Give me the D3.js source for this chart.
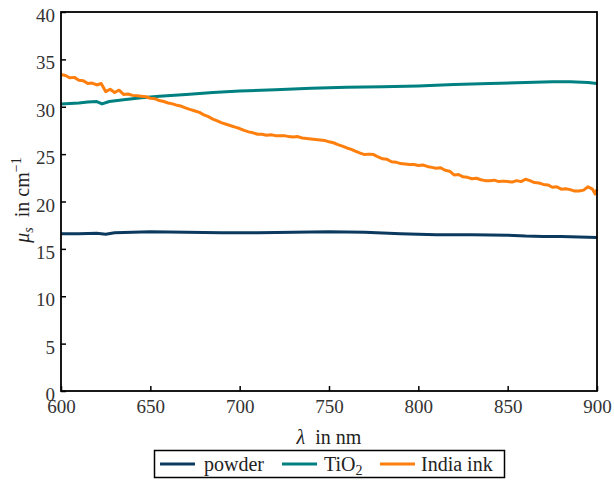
<!DOCTYPE html>
<html><head><meta charset="utf-8">
<script src="https://cdn.jsdelivr.net/npm/d3@7"></script>
<style>body{margin:0;background:#fff} svg text{font-family:'Liberation Serif','Times New Roman',Times,serif !important}</style>
</head><body>
<svg id="c" width="614" height="481"></svg>
<script>
const seriesNames = ["powder", "TiO2", "India ink"];
const xTicks = [600, 650, 700, 750, 800, 850, 900];
const yTicks = [0, 5, 10, 15, 20, 25, 30, 35, 40];

const powderLambda = [600,610,620,625,630,640,650,670,690,710,730,750,770,790,810,830,850,860,870,880,890,900];
const powderValues = [16.6,16.6,16.65,16.55,16.7,16.75,16.8,16.75,16.7,16.7,16.75,16.8,16.75,16.6,16.5,16.5,16.45,16.35,16.3,16.3,16.25,16.2];

const tio2Lambda = [600,605,610,615,620,623,627,635,645,655,670,685,700,720,740,760,780,800,820,840,860,875,885,895,900];
const tio2Values = [30.3,30.35,30.4,30.5,30.55,30.3,30.55,30.75,30.95,31.1,31.3,31.5,31.65,31.8,31.95,32.05,32.1,32.2,32.35,32.45,32.55,32.65,32.65,32.55,32.45];

const inkLambda = [600,602.5,605,607.5,610,612.5,615,617.5,620,622.5,625,627.5,630,632.5,635,637.5,640,642.5,645,647.5,650,652.5,655,657.5,660,662.5,665,667.5,670,672.5,675,677.5,680,682.5,685,687.5,690,692.5,695,697.5,700,702.5,705,707.5,710,712.5,715,717.5,720,722.5,725,727.5,730,732.5,735,737.5,740,742.5,745,747.5,750,752.5,755,757.5,760,762.5,765,767.5,770,772.5,775,777.5,780,782.5,785,787.5,790,792.5,795,797.5,800,802.5,805,807.5,810,812.5,815,817.5,820,822.5,825,827.5,830,832.5,835,837.5,840,842.5,845,847.5,850,852.5,855,857.5,860,862.5,865,867.5,870,872.5,875,877.5,880,882.5,885,887.5,890,892.5,895,897.5,899,900];
const inkValues = [33.4,33.3,33.05,33.1,32.8,32.75,32.45,32.5,32.3,32.45,31.6,31.85,31.5,31.75,31.3,31.35,31.2,31.15,31.1,31.05,30.9,30.85,30.65,30.55,30.4,30.3,30.15,30.05,29.85,29.7,29.55,29.4,29.15,28.95,28.7,28.5,28.3,28.15,28.0,27.85,27.7,27.5,27.35,27.25,27.1,27.1,27.0,27.05,26.95,26.95,26.95,26.85,26.8,26.85,26.7,26.65,26.6,26.55,26.5,26.45,26.3,26.2,26.0,25.85,25.65,25.5,25.3,25.1,24.95,25.0,24.95,24.7,24.5,24.45,24.2,24.15,24.0,23.95,23.9,23.9,23.8,23.85,23.7,23.6,23.5,23.55,23.3,23.2,22.8,22.85,22.6,22.55,22.4,22.45,22.3,22.2,22.2,22.25,22.1,22.15,22.1,22.05,22.2,22.1,22.35,22.2,22.0,21.95,21.8,21.75,21.5,21.55,21.3,21.35,21.25,21.1,21.1,21.2,21.55,21.3,20.8,21.3];

const colors = ["#0b3a5e", "#008080", "#ff7f0e"];

const svg = d3.select("#c");
const L = 61, R = 597, T = 12, B = 391;
const x = d3.scaleLinear().domain([600, 900]).range([L, R]);
const y = d3.scaleLinear().domain([0, 40]).range([B, T]);

const series = [
  {name: seriesNames[0], lam: powderLambda, val: powderValues, color: colors[0]},
  {name: seriesNames[1], lam: tio2Lambda, val: tio2Values, color: colors[1]},
  {name: seriesNames[2], lam: inkLambda, val: inkValues, color: colors[2]}
];

const line = d3.line().x(d => x(d[0])).y(d => y(d[1]));
series.forEach(s => {
  svg.append("path")
    .datum(s.lam.map((l, i) => [l, s.val[i]]))
    .attr("d", line)
    .attr("fill", "none")
    .attr("stroke", s.color)
    .attr("stroke-width", 3)
    .attr("stroke-linejoin", "round");
});

const xAxis = svg.append("g").attr("transform", `translate(0,${B})`)
  .call(d3.axisBottom(x).tickValues(xTicks).tickSize(-5).tickPadding(8).tickFormat(d3.format("d")));
const yAxis = svg.append("g").attr("transform", `translate(${L},0)`)
  .call(d3.axisLeft(y).tickValues(yTicks).tickSize(-5).tickPadding(6).tickFormat(d3.format("d")));
[xAxis, yAxis].forEach(g => {
  g.attr("font-family", null).attr("font-size", 19);
  g.select(".domain").remove();
  g.selectAll(".tick line").attr("stroke", "#000").attr("stroke-width", 1.5);
  g.selectAll(".tick text").attr("fill", "#333");
});
yAxis.selectAll(".tick text").attr("dy", "0.5em");
xAxis.selectAll(".tick text").attr("dy", "0.75em");

svg.append("rect").attr("x", L).attr("y", T).attr("width", R - L).attr("height", B - T)
  .attr("fill", "none").attr("stroke", "#000").attr("stroke-width", 1.8);

const xl = svg.append("text").attr("x", (L + R) / 2).attr("y", 444).attr("text-anchor", "middle")
  .attr("font-size", 20).attr("fill", "#222");
xl.append("tspan").attr("font-style", "italic").text("λ");
xl.append("tspan").text("\u2002in nm");

const yl = svg.append("text").attr("transform", "translate(29,200) rotate(-90)").attr("text-anchor", "middle")
  .attr("font-size", 20).attr("fill", "#222");
yl.append("tspan").attr("font-style", "italic").text("μ");
yl.append("tspan").attr("font-style", "italic").attr("font-size", 14).attr("dy", 4).text("s");
yl.append("tspan").attr("dy", -4).text("\u2002in cm");
yl.append("tspan").attr("font-size", 14).attr("dy", -8).text("−1");

const lg = svg.append("g");
lg.append("rect").attr("x", 154.5).attr("y", 450.5).attr("width", 350).attr("height", 27)
  .attr("fill", "#fff").attr("stroke", "#000").attr("stroke-width", 1.5);
const lx = [160, 282, 380];
const tx = [204, 324, 421];
series.forEach((s, i) => {
  lg.append("line").attr("x1", lx[i]).attr("x2", lx[i] + 35).attr("y1", 464).attr("y2", 464)
    .attr("stroke", s.color).attr("stroke-width", 3);
  const t = lg.append("text").attr("x", tx[i]).attr("y", 471).attr("font-size", 20).attr("fill", "#222");
  if (s.name === "TiO2") {
    t.append("tspan").text("TiO");
    t.append("tspan").attr("font-size", 14).attr("dy", 4).text("2");
  } else {
    t.text(s.name);
  }
});
</script>
</body></html>
